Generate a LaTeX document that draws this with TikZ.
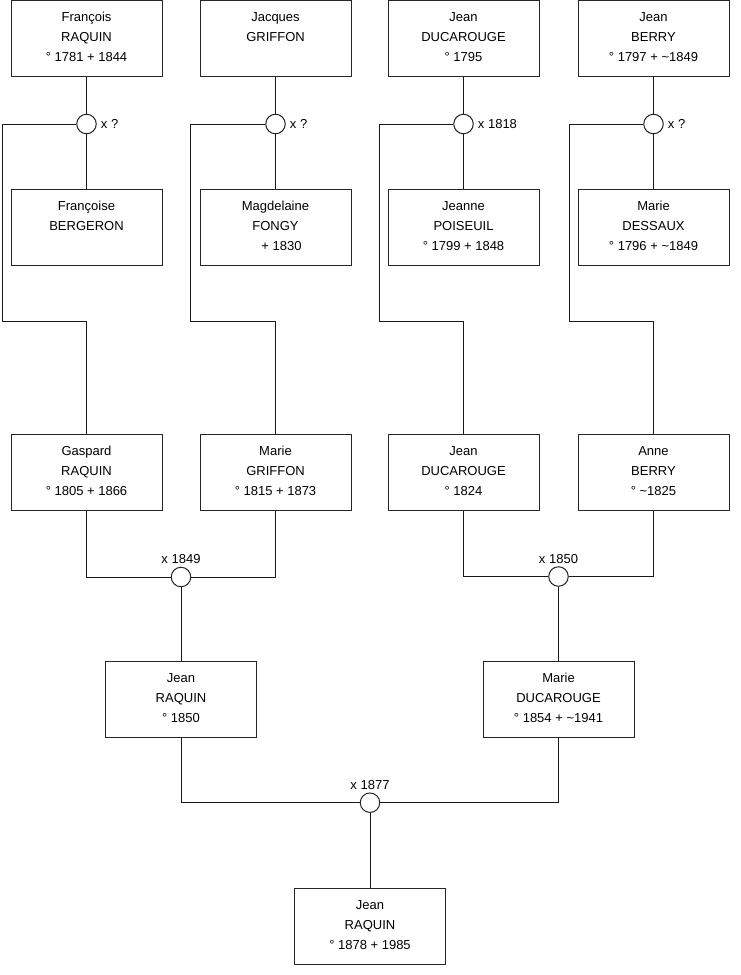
\documentclass[tikz,border=0pt]{standalone}
\usepackage{fontspec}
\setmainfont{Liberation Sans}
\begin{document}
\begin{tikzpicture}[x=1pt,y=-1pt,
  person/.style={draw=black!85, fill=white, line width=1pt, minimum width=151pt,
    minimum height=75.5pt, inner sep=0pt, align=center,
    font=\fontsize{13}{20}\selectfont, text height=49.2pt, text depth=4.1pt},
  union/.style={circle, draw=black!85, fill=white, minimum size=19.5pt, inner sep=0pt, line width=1pt},
  lbl/.style={font=\fontsize{13}{15}\selectfont, inner sep=0pt},
  link/.style={line width=1pt, black!90}]
\useasboundingbox (0,0) rectangle (740,975);
\fill[white] (0,0) rectangle (740,975);

% fold points
\coordinate (k1) at (2,321.7);
\coordinate (k2) at (190.5,321.7);
\coordinate (k3) at (379.3,321.7);
\coordinate (k4) at (569,321.7);

% unions
\node[union] (u1) at (86.5,124) {};
\node[union] (u2) at (275.5,124) {};
\node[union] (u3) at (463.5,124) {};
\node[union] (u4) at (653.5,124) {};
\node[union] (u5) at (181,577) {};
\node[union] (u6) at (558.5,576.5) {};
\node[union] (u7) at (370,802.7) {};

% row 1
\node[person] (p1) at (86.5,38.5) {François\\RAQUIN\\° 1781 + 1844};
\node[person] (p2) at (275.5,38.5) {Jacques\\GRIFFON\\\mbox{}};
\node[person] (p3) at (463.5,38.5) {Jean\\DUCAROUGE\\° 1795};
\node[person] (p4) at (653.5,38.5) {Jean\\BERRY\\° 1797 + \textasciitilde1849};
% row 2
\node[person] (q1) at (86.5,227.5) {Françoise\\BERGERON\\\mbox{}};
\node[person] (q2) at (275.5,227.5) {Magdelaine\\FONGY\\\hspace*{12pt}+ 1830};
\node[person] (q3) at (463.5,227.5) {Jeanne\\POISEUIL\\° 1799 + 1848};
\node[person] (q4) at (653.5,227.5) {Marie\\DESSAUX\\° 1796 + \textasciitilde1849};
% row 3
\node[person] (g1) at (86.5,472.5) {Gaspard\\RAQUIN\\° 1805 + 1866};
\node[person] (g2) at (275.5,472.5) {Marie\\GRIFFON\\° 1815 + 1873};
\node[person] (g3) at (463.5,472.5) {Jean\\DUCAROUGE\\° 1824};
\node[person] (g4) at (653.5,472.5) {Anne\\BERRY\\° \textasciitilde1825};
% row 4
\node[person] (c1) at (181,699.5) {Jean\\RAQUIN\\° 1850};
\node[person] (c2) at (558.5,699.5) {Marie\\DUCAROUGE\\° 1854 + \textasciitilde1941};
% row 5
\node[person] (d1) at (370,926.5) {Jean\\RAQUIN\\° 1878 + 1985};

% connectors top
\foreach \i in {1,2,3,4}{
  \draw[link] (p\i.south) -- (u\i.north);
  \draw[link] (u\i.south) -- (q\i.north);
  \draw[link] (u\i.west) -| (k\i) -| (g\i.north);
}
\draw[link] (g1.south) |- (u5.west);
\draw[link] (u5.east) -| (g2.south);
\draw[link] (u5.south) -- (c1.north);
\draw[link] (g3.south) |- (u6.west);
\draw[link] (u6.east) -| (g4.south);
\draw[link] (u6.south) -- (c2.north);
\draw[link] (c1.south) |- (u7.west);
\draw[link] (u7.east) -| (c2.south);
\draw[link] (u7.south) -- (d1.north);

% labels
\node[lbl, anchor=base west] (l1) at ([xshift=4pt,yshift=-4.5pt]u1.east) {x ?};
\node[lbl, anchor=base west] (l2) at ([xshift=4pt,yshift=-4.5pt]u2.east) {x ?};
\node[lbl, anchor=base west] (l3) at ([xshift=4pt,yshift=-4.5pt]u3.east) {x 1818};
\node[lbl, anchor=base west] (l4) at ([xshift=4pt,yshift=-4.5pt]u4.east) {x ?};
\node[lbl, anchor=base] (l5) at ([yshift=13.5pt]u5.center) {x 1849};
\node[lbl, anchor=base] (l6) at ([yshift=13.5pt]u6.center) {x 1850};
\node[lbl, anchor=base] (l7) at ([yshift=13.5pt]u7.center) {x 1877};
\end{tikzpicture}
\end{document}
